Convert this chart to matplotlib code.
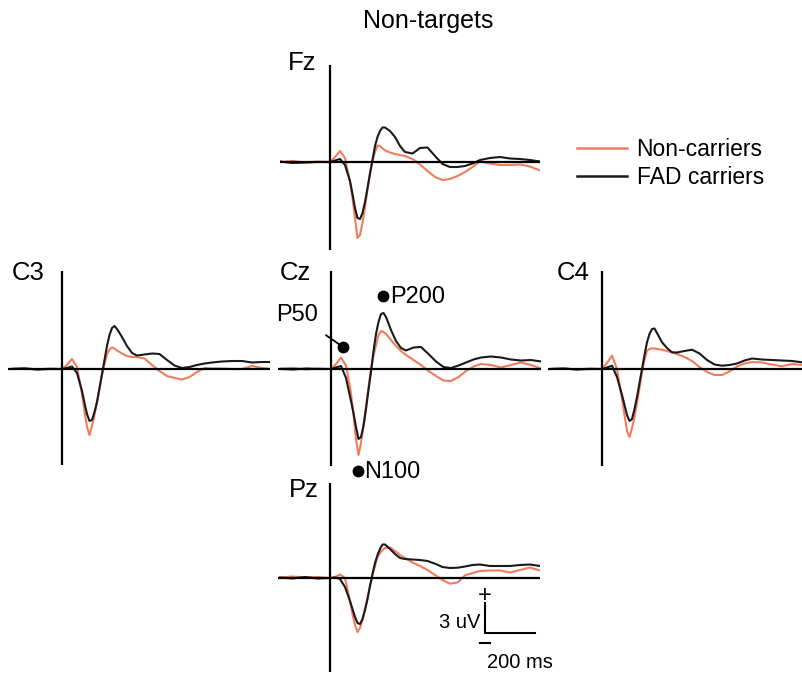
import numpy as np
import matplotlib
matplotlib.use('Agg')
import matplotlib.pyplot as plt
from matplotlib.lines import Line2D

plt.rcParams['font.family'] = ['Liberation Sans', 'DejaVu Sans']

# time points (ms) shared by all traces
times = [-200, -150, -100, -50, 0, 20, 40, 60, 80, 90, 100, 110, 120, 130, 140,
         150, 160, 170, 180, 190, 200, 210, 220, 240, 260, 280, 300, 330, 360,
         390, 420, 450, 480, 510, 540, 570, 600, 640, 680, 720, 760, 800, 840]

# amplitudes (uV), non-carriers
fz_non = [0.0, 0.1, -0.05, 0.05, 0.0, 0.5, 1.1, 0.4, -2.0, -3.6, -5.6, -7.6, -7.3, -6.1, -4.5,
          -2.8, -1.0, 0.1, 1.0, 1.65, 1.6, 1.35, 1.17, 0.95, 0.8, 0.7, 0.6, 0.3, -0.25,
          -0.9, -1.5, -1.8, -1.7, -1.4, -1.0, -0.5, 0.05, -0.15, -0.3, -0.3, -0.25, -0.45, -0.85]
c3_non = [0.05, 0.1, -0.05, 0.05, 0.0, 0.4, 1.0, 0.2, -2.5, -4.2, -5.8, -6.6, -5.7, -4.6, -3.3,
          -2.0, -0.6, 0.5, 1.5, 1.95, 2.15, 2.05, 1.85, 1.55, 1.3, 1.2, 1.2, 1.05, 0.4,
          -0.2, -0.7, -0.9, -1.05, -0.8, -0.3, 0.1, 0.05, 0.05, 0.0, 0.0, 0.3, 0.1, 0.0]
cz_non = [0.05, 0.1, -0.05, 0.05, 0.0, 0.5, 1.15, 0.35, -2.4, -4.6, -7.0, -8.6, -7.4, -5.6, -3.7,
          -1.8, 0.0, 1.3, 2.4, 3.4, 3.8, 3.7, 3.5, 2.9, 2.3, 1.8, 1.4, 0.9, 0.4,
          -0.2, -0.7, -1.15, -1.2, -0.8, -0.2, 0.25, 0.5, 0.4, 0.15, 0.4, 0.65, 0.4, 0.05]
c4_non = [0.05, 0.05, -0.05, 0.05, 0.0, 0.6, 1.33, 0.0, -3.0, -4.6, -6.2, -6.8, -5.9, -4.8, -3.4,
          -1.9, -0.33, 0.9, 1.83, 2.0, 2.07, 2.05, 2.0, 1.93, 1.8, 1.65, 1.5, 1.2, 0.8,
          0.2, -0.3, -0.6, -0.6, -0.25, 0.25, 0.55, 0.7, 0.65, 0.45, 0.27, 0.5, 0.4, 0.4]
pz_non = [0.05, 0.15, 0.05, 0.1, 0.0, 0.1, 0.35, 0.0, -2.3, -3.6, -4.7, -5.4, -5.0, -4.2, -3.1,
          -2.0, -0.8, 0.3, 1.2, 2.1, 2.5, 2.8, 3.0, 3.05, 2.7, 2.3, 2.0, 1.55, 1.2,
          0.8, 0.3, -0.2, -0.57, -0.45, 0.27, 0.5, 0.7, 0.75, 0.75, 0.55, 0.8, 1.05, 0.75]

# amplitudes (uV), FAD carriers
fz_fad = [0.05, -0.1, -0.05, 0.0, 0.0, 0.15, 0.3, -0.3, -1.9, -3.2, -4.6, -5.6, -5.7, -5.1, -4.0,
          -2.6, -1.2, 0.2, 1.6, 2.5, 3.1, 3.45, 3.45, 3.1, 2.5, 1.6, 1.0, 0.85, 1.4,
          1.45, 0.6, -0.2, -0.5, -0.5, -0.4, -0.15, 0.2, 0.4, 0.5, 0.35, 0.3, 0.2, 0.05]
c3_fad = [0.0, 0.05, -0.05, 0.0, 0.0, 0.1, 0.25, -0.4, -2.2, -3.4, -4.5, -5.2, -5.1, -4.3, -3.3,
          -1.9, -0.5, 0.9, 2.3, 3.4, 4.1, 4.3, 4.0, 3.2, 2.3, 1.6, 1.35, 1.45, 1.55,
          1.5, 0.9, 0.35, 0.1, 0.2, 0.4, 0.55, 0.65, 0.75, 0.8, 0.8, 0.65, 0.7, 0.7]
cz_fad = [0.0, -0.05, 0.05, 0.0, 0.0, 0.15, 0.3, -0.9, -3.2, -4.4, -5.8, -7.0, -6.8, -5.7, -4.0,
          -2.1, -0.3, 1.8, 3.5, 4.7, 5.5, 5.6, 5.2, 3.9, 2.8, 2.1, 1.85, 2.15, 2.2,
          1.5, 0.75, 0.2, 0.1, 0.35, 0.65, 0.95, 1.15, 1.25, 1.15, 0.95, 0.85, 0.9, 0.75]
c4_fad = [0.0, 0.05, -0.05, 0.0, 0.0, 0.15, 0.33, -0.8, -2.6, -3.6, -4.6, -5.2, -5.0, -4.0, -2.8,
          -1.4, 0.0, 1.4, 2.67, 3.5, 4.0, 4.05, 3.6, 2.67, 2.1, 1.67, 1.65, 1.8, 1.93,
          1.55, 0.9, 0.45, 0.33, 0.4, 0.55, 0.85, 1.05, 0.95, 0.9, 0.85, 0.8, 0.67, 0.67]
pz_fad = [0.05, -0.05, 0.1, -0.05, 0.0, 0.05, -0.1, -0.9, -2.3, -3.1, -3.9, -4.5, -4.6, -4.1, -3.2,
          -2.1, -0.8, 0.4, 1.5, 2.3, 2.9, 3.35, 3.35, 2.9, 2.4, 2.0, 1.9, 1.85, 1.8,
          1.7, 1.43, 1.1, 1.0, 1.03, 1.15, 1.3, 1.35, 1.2, 1.2, 1.2, 1.3, 1.35, 1.2]

channels = ['Fz', 'C3', 'Cz', 'C4', 'Pz']
non_carriers = [fz_non, c3_non, cz_non, c4_non, pz_non]
fad_carriers = [fz_fad, c3_fad, cz_fad, c4_fad, pz_fad]

ORANGE = '#f07c5e'
BLACK = '#1a1a1a'
W, H = 802, 675
MS_PER_PX = 4.0
UV_PER_PX = 0.1

# panel frame in pixels: left, right, top, bottom, zero-time x, baseline y
frames = {
    'Fz': (280, 540, 65, 250, 330, 162),
    'C3': (8, 270, 271, 465, 62, 369),
    'Cz': (278, 541, 271, 466, 331, 369),
    'C4': (548, 802, 271, 466, 602, 369),
    'Pz': (278, 540, 483, 672, 330, 578),
}
label_pos = {'Fz': (302, 63), 'C3': (28, 273), 'Cz': (295, 273),
             'C4': (573, 273), 'Pz': (304, 490)}


def fpos(x, y):
    return x / W, 1 - y / H


fig = plt.figure(figsize=(W / 100, H / 100), dpi=100)
axes = {}
for name, non, fad in zip(channels, non_carriers, fad_carriers):
    x0, x1, yt, yb, zx, by = frames[name]
    ax = fig.add_axes([x0 / W, 1 - yb / H, (x1 - x0) / W, (yb - yt) / H])
    ax.set_xlim((x0 - zx) * MS_PER_PX, (x1 - zx) * MS_PER_PX)
    ax.set_ylim((by - yb) * UV_PER_PX, (by - yt) * UV_PER_PX)
    ax.axis('off')
    ax.plot(times, non, color=ORANGE, lw=1.5, zorder=2)
    ax.plot(times, fad, color=BLACK, lw=1.5, zorder=3)
    ax.axhline(0, color='black', lw=1.6, zorder=4)
    ax.axvline(0, color='black', lw=1.6, zorder=4)
    lx, ly = label_pos[name]
    fig.text(*fpos(lx, ly), name, fontsize=18.5, ha='center', va='center')
    axes[name] = ax

fig.text(*fpos(428, 21), 'Non-targets', fontsize=18, ha='center', va='center')

# component labels on Cz
cz = axes['Cz']
cz.plot([48], [2.2], 'o', color='black', ms=7.5, clip_on=False, zorder=5)
cz.annotate('P50', xy=(48, 2.2), xytext=fpos(297, 315), textcoords='figure fraction',
            fontsize=17, ha='center', va='center', annotation_clip=False,
            arrowprops=dict(arrowstyle='-', color='black', lw=1.3, shrinkA=8, shrinkB=0))
cz.plot([208], [7.3], 'o', color='black', ms=7.5, clip_on=False, zorder=5)
cz.text(236, 7.2, 'P200', fontsize=17, ha='left', va='center')
cz.plot([108], [-10.2], 'o', color='black', ms=7.5, clip_on=False, zorder=5)
cz.text(132, -10.3, 'N100', fontsize=17, ha='left', va='center', clip_on=False)

# scale bar on Pz: 200 ms, 3 uV
pz = axes['Pz']
pz.plot([620, 620, 820], [-2.5, -5.5, -5.5], color='black', lw=1.5, clip_on=False)
pz.text(620, -1.8, '+', fontsize=17, ha='center', va='center')
pz.plot([598, 638], [-6.5, -6.5], color='black', lw=1.5, clip_on=False)
pz.text(600, -4.4, '3 uV', fontsize=14.5, ha='right', va='center')
pz.text(628, -8.4, '200 ms', fontsize=14.5, ha='left', va='center', clip_on=False)

handles = [Line2D([], [], color=ORANGE, lw=1.8), Line2D([], [], color=BLACK, lw=1.8)]
fig.legend(handles, ['Non-carriers', 'FAD carriers'], loc='upper left',
           bbox_to_anchor=fpos(577, 138), frameon=False, fontsize=16.5,
           borderpad=0, borderaxespad=0,
           handlelength=2.2, handletextpad=0.4, labelspacing=0.2)

fig.savefig('out.png', dpi=100)
